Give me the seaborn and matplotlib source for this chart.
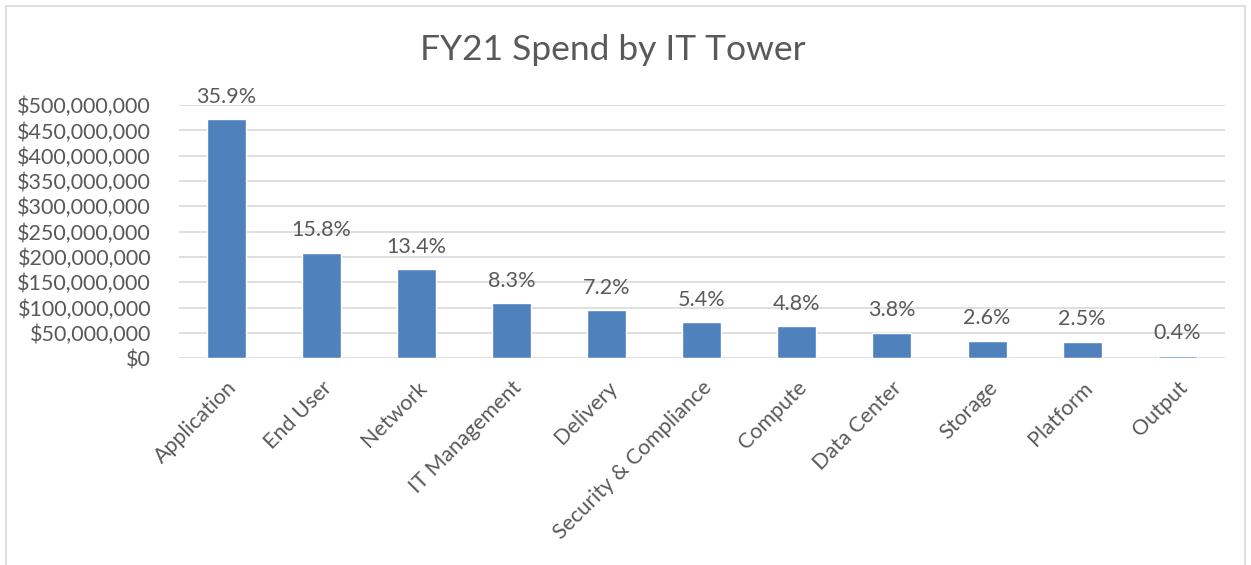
import matplotlib
matplotlib.use("Agg")
import matplotlib.pyplot as plt
import seaborn as sns
import pandas as pd
from matplotlib.ticker import FuncFormatter
from matplotlib.patches import Rectangle

# data
towers = ["Application", "End User", "Network", "IT Management", "Delivery",
          "Security & Compliance", "Compute", "Data Center", "Storage",
          "Platform", "Output"]
spend = [472e6, 208e6, 176e6, 109e6, 95e6, 71e6, 63e6, 50e6, 34e6, 33e6, 5e6]
pct_labels = ["35.9%", "15.8%", "13.4%", "8.3%", "7.2%", "5.4%", "4.8%",
              "3.8%", "2.6%", "2.5%", "0.4%"]

df = pd.DataFrame({"tower": towers, "spend": spend})

sns.set_style("white")
plt.rcParams["font.family"] = ["Lato", "DejaVu Sans"]
txt = "#595959"

fig = plt.figure(figsize=(12.51, 5.65), dpi=100)
ax = fig.add_axes([0.143, 0.366, 0.836, 0.448])

sns.barplot(data=df, x="tower", y="spend", color="#4f81bd", width=0.41,
            saturation=1, ax=ax)

ax.set_ylim(0, 500e6)
ax.set_yticks(range(0, 500000001, 50000000))
ax.yaxis.set_major_formatter(FuncFormatter(lambda v, p: "${:,.0f}".format(v)))
ax.grid(axis="y", color="#d9d9d9", linewidth=1.2)
ax.set_axisbelow(True)
for s in ax.spines.values():
    s.set_visible(False)
ax.tick_params(axis="both", length=0, labelsize=15.5, colors=txt)
ax.tick_params(axis="y", pad=20)
plt.setp(ax.get_xticklabels(), rotation=45, ha="right", rotation_mode="anchor")
ax.tick_params(axis="x", pad=14)
ax.set_xlabel("")
ax.set_ylabel("")

for i, (v, lab) in enumerate(zip(spend, pct_labels)):
    ax.annotate(lab, (i, v), xytext=(0, 9), textcoords="offset points",
                ha="center", va="bottom", fontsize=15.5, color=txt)

fig.text(0.49, 0.912, "FY21 Spend by IT Tower", ha="center", va="center",
         fontsize=25.5, color=txt)

# chart frame
fig.patches.append(Rectangle((0.005, -0.01), 0.99, 1.0, transform=fig.transFigure,
                             fill=False, edgecolor="#d9d9d9", linewidth=1.2))

fig.savefig("out.png", dpi=100)
